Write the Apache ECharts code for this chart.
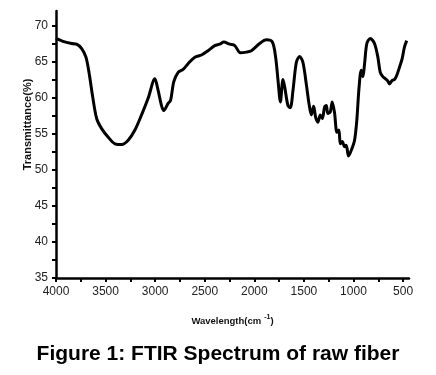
<!DOCTYPE html>
<html>
<head>
<meta charset="utf-8">
<script src="https://cdn.jsdelivr.net/npm/echarts@6/dist/echarts.min.js"></script>
<style>
html,body{margin:0;padding:0;background:#fff;}
#chart{width:436px;height:375px;}
</style>
</head>
<body>
<div id="chart"></div>
<script>
var wavenumbers = [4000,3930,3842,3792,3741,3698,3665,3630,3590,3540,3473,3406,3338,3272,3204,3137,3071,3003,2970,2936,2913,2869,2845,2812,2768,2718,2668,2600,2533,2466,2399,2349,2308,2248,2197,2140,2080,2029,1946,1878,1818,1785,1761,1737,1711,1694,1661,1637,1610,1576,1543,1510,1476,1449,1425,1402,1382,1359,1335,1314,1291,1274,1258,1234,1214,1191,1167,1147,1133,1113,1090,1073,1050,1022,989,966,946,922,905,888,865,831,788,754,730,704,677,654,637,609,586,563,536,509,486,463];
var transmittance = [68.2,67.8,67.5,67.4,66.8,65.6,63.3,60.1,57.1,55.7,54.5,53.6,53.5,54.1,55.5,57.6,59.9,62.6,61.0,58.9,58.2,59.2,59.6,62.2,63.5,63.9,64.7,65.6,65.9,66.5,67.2,67.4,67.7,67.4,67.2,66.2,66.3,66.5,67.5,68.0,67.7,65.6,62.4,59.4,62.5,61.5,58.9,58.6,61.0,64.9,65.7,64.9,61.9,59.2,57.6,58.8,57.3,56.6,57.6,57.1,58.7,58.9,57.8,58.0,59.4,57.9,55.2,55.5,53.6,53.9,53.2,53.4,51.9,52.7,54.1,56.9,61.0,63.8,62.9,64.7,67.5,68.2,67.5,65.6,63.5,62.9,62.6,62.3,61.9,62.4,62.5,63.1,64.2,65.4,67.0,67.9];
var xTickLabels = [4000,3500,3000,2500,2000,1500,1000,500];
var xMinorTicks = [4000,3750,3500,3250,3000,2750,2500,2250,2000,1750,1500,1250,1000,750,500];
var yTickLabels = [35,40,45,50,55,60,65,70];
var yMinorTicks = [35,37.5,40,42.5,45,47.5,50,52.5,55,57.5,60,62.5,65,67.5,70];

var points = wavenumbers.map(function(w,i){return [w, transmittance[i]];});
var font = '"Liberation Sans", Arial, sans-serif';

var chart = echarts.init(document.getElementById('chart'), null, {renderer:'canvas'});
chart.setOption({
  animation:false,
  backgroundColor:'#ffffff',
  title:{
    text:'Figure 1: FTIR Spectrum of raw fiber',
    left:'center',
    top:339,
    textStyle:{fontFamily:font,fontSize:21,fontWeight:'bold',color:'#000'}
  },
  grid:{left:56,right:27,top:11,bottom:97,containLabel:false},
  xAxis:{
    type:'value',
    inverse:true,
    min:440,
    max:4000,
    name:'{a|Wavelength(cm}{s|-1}{a|)}',
    nameLocation:'middle',
    nameGap:36,
    nameMoveOverlap:false,
    nameTextStyle:{
      rich:{
        a:{fontFamily:font,fontSize:9.5,fontWeight:'bold',color:'#111'},
        s:{fontFamily:font,fontSize:7,fontWeight:'bold',color:'#111',padding:[0,0,8,3]}
      }
    },
    axisLine:{show:true,onZero:false,lineStyle:{color:'#000',width:2.5}},
    axisTick:{show:true,length:4,lineStyle:{color:'#000',width:2},customValues:xMinorTicks},
    axisLabel:{fontFamily:font,fontSize:12,color:'#222',margin:8,customValues:xTickLabels,
      formatter:function(v){return String(v);}},
    splitLine:{show:false}
  },
  yAxis:{
    type:'value',
    min:35,
    max:72,
    name:'Transmittance(%)',
    nameLocation:'middle',
    nameGap:23,
    nameMoveOverlap:false,
    nameTextStyle:{fontFamily:font,fontSize:11,fontWeight:'bold',color:'#111',padding:[0,0,0,40]},
    axisLine:{show:true,onZero:false,lineStyle:{color:'#000',width:2.5}},
    axisTick:{show:true,length:4,lineStyle:{color:'#000',width:2},customValues:yMinorTicks},
    axisLabel:{fontFamily:font,fontSize:12,color:'#222',margin:8,customValues:yTickLabels,
      formatter:function(v){return String(v);}},
    splitLine:{show:false}
  },
  series:[{
    type:'line',
    data:points,
    showSymbol:false,
    smooth:0.3,
    lineStyle:{color:'#000',width:3},
    z:5
  }]
});
</script>
</body>
</html>
